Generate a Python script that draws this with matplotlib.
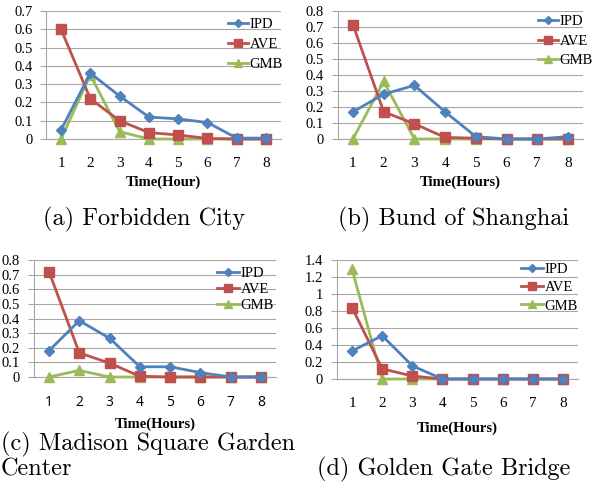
import matplotlib
matplotlib.use("Agg")
import matplotlib.pyplot as plt

hours = [1, 2, 3, 4, 5, 6, 7, 8]

# (a) Forbidden City
a_ipd = [0.05, 0.36, 0.235, 0.12, 0.11, 0.09, 0.005, 0.005]
a_ave = [0.60, 0.22, 0.10, 0.035, 0.022, 0.003, 0.0, 0.0]
a_gmb = [0.0, 0.35, 0.04, 0.0, 0.0, 0.0, 0.0, 0.0]
# (b) Bund of Shanghai
b_ipd = [0.17, 0.28, 0.335, 0.17, 0.015, 0.0, 0.0, 0.015]
b_ave = [0.715, 0.17, 0.095, 0.01, 0.005, 0.0, 0.0, 0.0]
b_gmb = [0.0, 0.36, 0.0, 0.0, 0.0, 0.0, 0.0, 0.0]
# (c) Madison Square Garden Center
c_ipd = [0.18, 0.385, 0.265, 0.07, 0.07, 0.03, 0.0, 0.0]
c_ave = [0.72, 0.165, 0.095, 0.005, 0.0, 0.0, 0.0, 0.0]
c_gmb = [0.0, 0.045, 0.0, 0.0, 0.0, 0.0, 0.0, 0.0]
# (d) Golden Gate Bridge
d_ipd = [0.33, 0.51, 0.155, 0.0, 0.0, 0.0, 0.0, 0.0]
d_ave = [0.84, 0.12, 0.035, 0.0, 0.0, 0.0, 0.0, 0.0]
d_gmb = [1.29, 0.0, 0.0, 0.0, 0.0, 0.0, 0.0, 0.0]

yticks_a = [0, 0.1, 0.2, 0.3, 0.4, 0.5, 0.6, 0.7]
yticks_bc = [0, 0.1, 0.2, 0.3, 0.4, 0.5, 0.6, 0.7, 0.8]
yticks_d = [0, 0.2, 0.4, 0.6, 0.8, 1.0, 1.2, 1.4]

xlabels = ["Time(Hour)", "Time(Hours)", "Time(Hours)", "Time(Hours)"]
captions = ["(a) Forbidden City", "(b) Bund of Shanghai",
            "(c) Madison Square Garden\nCenter", "(d) Golden Gate Bridge"]

BLUE = "#4F81BD"
RED = "#C0504D"
GREEN = "#9BBB59"
GRID = "#A6A6A6"

fig = plt.figure(figsize=(6.02, 5.03), dpi=100)

W, H = 602.0, 503.0
# axes boxes in pixels: left, top, right, bottom
boxes = [(46.4, 11, 280.7, 139),
         (337.6, 11, 583.3, 139),
         (33.9, 260, 276.1, 377),
         (337.0, 260, 578.1, 379)]
panels = [(a_ipd, a_ave, a_gmb, yticks_a),
          (b_ipd, b_ave, b_gmb, yticks_bc),
          (c_ipd, c_ave, c_gmb, yticks_bc),
          (d_ipd, d_ave, d_gmb, yticks_d)]
# legend anchor (right, top) in pixels, row spacing, handle length
leg_pos = [(283, 17.7, 0.47, 1.4), (593, 15.2, 0.43, 1.4),
           (274, 266.7, 0.21, 1.5), (578, 263, 0.34, 1.5)]
# caption x, baseline y, alignment
cap_pos = [(144.5, 225, "center"), (453, 225, "center"),
           (1, 475, "left"), (443.5, 475, "center")]
xlab_gap = [43, 43, 47, 49]

for i, (box, (ipd, ave, gmb, yt)) in enumerate(zip(boxes, panels)):
    l, t, r, b = box
    ax = fig.add_axes([l / W, 1 - b / H, (r - l) / W, (b - t) / H])
    ax.plot(hours, ipd, color=BLUE, lw=2, marker="D", ms=5, label="IPD", zorder=5)
    ax.plot(hours, ave, color=RED, lw=2, marker="s", ms=6.5, label="AVE", zorder=4)
    ax.plot(hours, gmb, color=GREEN, lw=2, marker="^", ms=6.5, label="GMB", zorder=3)
    ax.set_xlim(0.5, 8.5)
    ax.set_ylim(0, yt[-1])
    ax.set_xticks(hours)
    ax.set_yticks(yt)
    ax.set_yticklabels(["0" if v == 0 else ("%g" % v) for v in yt],
                       family="Liberation Serif", fontsize=10.5)
    if i == 2:
        ax.set_xticklabels([str(h) for h in hours], family="Open Sans", fontsize=10)
    else:
        ax.set_xticklabels([str(h) for h in hours], family="Liberation Serif", fontsize=11)
    ax.tick_params(axis="x", length=0, pad=13)
    ax.tick_params(axis="y", length=4, width=0.8, color=GRID, pad=6)
    ax.yaxis.grid(True, color=GRID, lw=0.8)
    ax.set_axisbelow(True)
    for s in ["top", "right"]:
        ax.spines[s].set_visible(False)
    ax.spines["left"].set_color(GRID)
    ax.spines["bottom"].set_color(GRID)
    ax.spines["left"].set_linewidth(0.8)
    ax.spines["bottom"].set_linewidth(0.8)
    for ln in ax.lines:
        ln.set_clip_on(False)

    lx, ly, sp, hl = leg_pos[i]
    ax.legend(loc="upper right", bbox_to_anchor=(lx / W, 1 - ly / H),
              bbox_transform=fig.transFigure, frameon=False,
              prop={"family": "Liberation Serif", "size": 10.5},
              handlelength=hl, handletextpad=0.1, labelspacing=sp,
              borderaxespad=0, borderpad=0, markerscale=0.9)

    xc = (l + r) / 2
    fig.text(xc / W, 1 - (b + xlab_gap[i]) / H, xlabels[i], ha="center", va="center",
             family="Liberation Serif", fontweight="bold", fontsize=10.5)
    cx, cy, ha = cap_pos[i]
    fig.text(cx / W, 1 - cy / H, captions[i], ha=ha, va="baseline",
             multialignment="left", family="cmr10", fontsize=17.5, linespacing=1.05)

fig.savefig("out.png", dpi=100)
